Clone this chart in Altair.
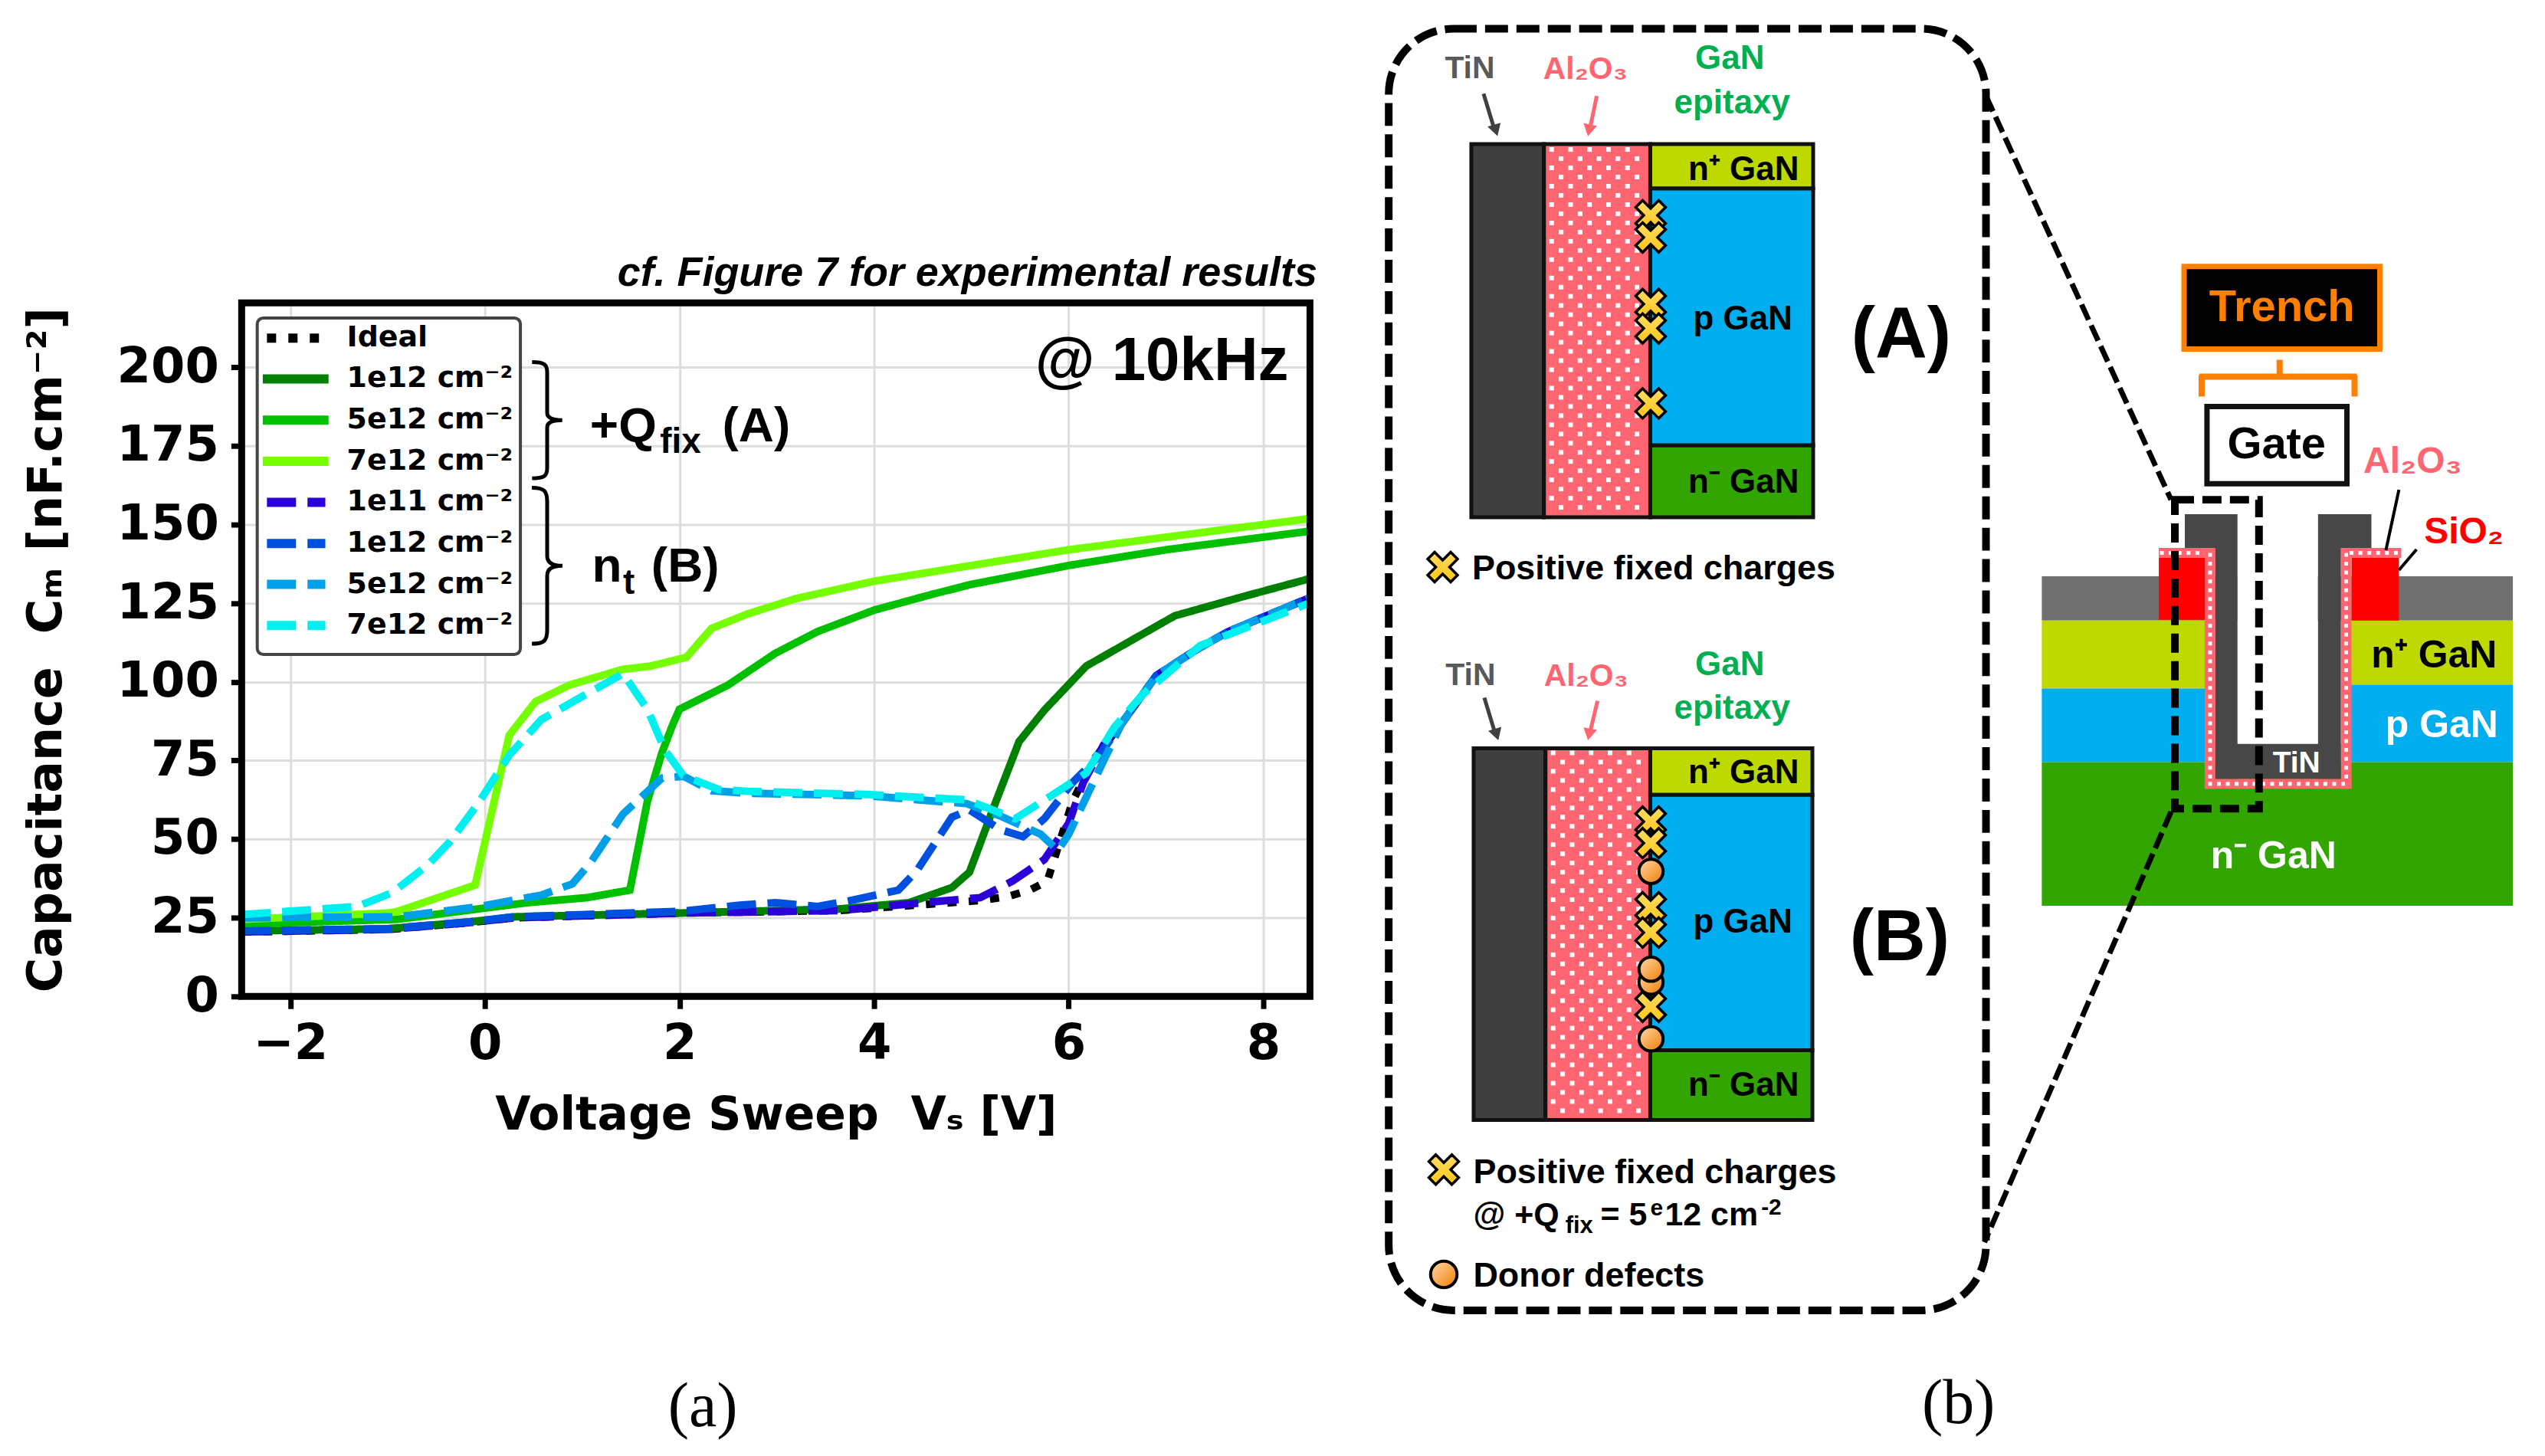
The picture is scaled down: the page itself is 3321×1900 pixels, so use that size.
import altair as alt
import pandas as pd
import numpy as np

# ---------------- chart (a) values ----------------
keys = ["Ideal", "1e12 cm⁻² (Qfix)", "5e12 cm⁻² (Qfix)", "7e12 cm⁻² (Qfix)", "1e11 cm⁻²", "1e12 cm⁻²", "5e12 cm⁻²", "7e12 cm⁻²"]
legend_labels = ["Ideal", "1e12 cm⁻²", "5e12 cm⁻²", "7e12 cm⁻²", "1e11 cm⁻²", "1e12 cm⁻²", "5e12 cm⁻²", "7e12 cm⁻²"]
colors = ["#000000", "#008000", "#00C000", "#76FF00", "#2C00D8", "#0050E0", "#00A0E8", "#00F0F0"]
DOT, SOLID, DASH = [12, 16], [1, 0], [38, 15]
dashes = [DOT, SOLID, SOLID, SOLID, DASH, DASH, DASH, DASH]

ideal_x = [-2.5, -1, -0.15, 0.3, 2, 3.64, 4.65, 5.09, 5.38, 5.6, 5.78, 5.85, 6.04, 6.25, 6.55, 6.9, 7.3, 7.64, 8.5]
ideal_y = [20.5, 21.3, 23.5, 25, 26.5, 27.3, 29.5, 30.5, 31.8, 33.8, 36.6, 43.5, 62, 75, 87, 102, 110, 116, 127]
q1_x = [-2.5, -1, -0.15, 0.3, 2, 3.64, 4.36, 4.8, 4.98, 5.24, 5.49, 5.75, 6.18, 7.09, 7.78, 8.5]
q1_y = [20.8, 21.5, 23.7, 25.3, 26.5, 27.8, 29.8, 34.6, 39.5, 61, 81, 91, 105, 121, 127, 133]
q5_x = [-2.5, -0.9, -0.07, 0.44, 1.05, 1.49, 1.67, 1.82, 1.93, 2, 2.5, 2.98, 3.42, 4, 4.58, 5, 6, 7, 8, 8.5]
q5_y = [23, 24.5, 27.8, 29.8, 31.4, 33.8, 62, 77.5, 86.4, 91.3, 99, 109, 116, 122.8, 127.7, 131, 137, 142, 146, 148]
q7_x = [-2.5, -1, -0.9, -0.1, 0.25, 0.52, 0.87, 1.42, 1.7, 2.07, 2.33, 2.7, 3.2, 4, 5, 6, 7, 8, 8.5]
q7_y = [24.5, 26.5, 27, 35.4, 83, 93.7, 99, 104, 105, 107.8, 117, 121.6, 126.5, 132, 137, 142, 146, 150, 152]
n11_x = [-2.5, -1, -0.15, 0.3, 2, 3.64, 4.65, 5.09, 5.42, 5.75, 6, 6.15, 6.36, 6.55, 6.9, 7.3, 7.64, 8.5]
n11_y = [20.5, 21.3, 23.5, 25, 26.5, 27.3, 30.2, 31.4, 36.6, 43.5, 55, 68, 80, 87, 102, 110, 116, 127]
n12_x = [-2.5, -1, -0.15, 0.3, 2, 2.62, 2.98, 3.42, 3.78, 4.25, 4.44, 4.8, 4.98, 5.3, 5.53, 5.75, 6.04, 6.3, 6.55, 6.9, 7.3, 7.64, 8.5]
n12_y = [20.8, 21.5, 23.7, 25.3, 27, 29, 29.8, 28.6, 30.6, 33.8, 40, 57, 59.3, 53, 50.8, 56.5, 68, 76, 87, 102, 110, 116, 127]
n5_x = [-2.5, -0.9, -0.07, 0.58, 0.9, 1.09, 1.42, 1.82, 2.04, 2.33, 2.7, 3.93, 4.95, 5.3, 5.71, 5.89, 6, 6.36, 6.55, 6.9, 7.3, 7.64, 8.5]
n5_y = [25, 25.3, 28.5, 32.2, 35.8, 42.7, 58, 69.4, 70, 65.4, 64.6, 63.8, 61.3, 57.3, 51.6, 46.4, 51.6, 75, 87, 102, 110, 116, 127]
n7_x = [-2.5, -1.31, -0.95, -0.58, -0.36, -0.07, 0.25, 0.58, 1.02, 1.42, 1.67, 1.85, 2.04, 2.4, 2.7, 3.93, 4.95, 5.45, 5.82, 6.18, 6.47, 6.76, 7.35, 8.47]
n7_y = [26, 28.6, 33, 42, 49.2, 61.3, 76.7, 88, 95.7, 102.6, 91.3, 78.3, 70.2, 65.8, 65.2, 64.2, 62.5, 56.5, 63.8, 71, 85.6, 96, 111.5, 125]

xs = [ideal_x, q1_x, q5_x, q7_x, n11_x, n12_x, n5_x, n7_x]
ys = [ideal_y, q1_y, q5_y, q7_y, n11_y, n12_y, n5_y, n7_y]
curves = pd.DataFrame(
    [{"s": k, "i": i, "V": a, "C": b} for i, (k, X, Y) in enumerate(zip(keys, xs, ys)) for a, b in zip(X, Y)]
)

TITLE = "cf. Figure 7 for experimental results"
X_TITLE = "Voltage Sweep\u00a0\u00a0Vₛ [V]"
Y_TITLE = "Capacitance\u00a0\u00a0Cₘ [nF.cm⁻²]"

SANS = "Liberation Sans"
DEJA = "DejaVu Sans"
XDOM = [-2.5, 8.48]
YDOM = [0, 220.5]

def brace(w, tip):
    a, m, b = -0.5, tip, 0.5
    r = 0.045
    return (f"M{-w},{a}C{-w/6},{a} 0,{a+r/2} 0,{a+2*r}L0,{m-1.4*r}C0,{m-r/2} {w/3},{m} {w},{m}"
            f"C{w/3},{m} 0,{m+r/2} 0,{m+1.4*r}L0,{b-2*r}C0,{b-r/2} {-w/6},{b} {-w},{b}")

sx = alt.Scale(domain=XDOM, nice=False, zero=False)
sy = alt.Scale(domain=YDOM, nice=False, zero=False)
ex = alt.X("V:Q", scale=sx, title=X_TITLE, axis=alt.Axis(
    values=[-2, 0, 2, 4, 6, 8], format="d", grid=True, gridColor="#DDDDDD", gridWidth=3, domain=False,
    tickSize=16, tickWidth=7, tickColor="black", labelFont=DEJA, labelFontWeight="bold", labelFontSize=64,
    labelPadding=14, titleFont=DEJA, titleFontWeight="bold", titleFontSize=60, titlePadding=33, labelOverlap=False))
ey = alt.Y("C:Q", scale=sy, title=Y_TITLE, axis=alt.Axis(
    values=[0, 25, 50, 75, 100, 125, 150, 175, 200], grid=True, gridColor="#DDDDDD", gridWidth=3, domain=False,
    tickSize=14, tickWidth=7, tickColor="black", labelFont=DEJA, labelFontWeight="bold", labelFontSize=64,
    labelPadding=16, titleFont=DEJA, titleFontWeight="bold", titleFontSize=62, titlePadding=60, labelOverlap=False))

col_scale = alt.Scale(domain=keys, range=colors)
dash_scale = alt.Scale(domain=keys, range=dashes)
lines = alt.Chart(curves).mark_line(strokeWidth=10, clip=True).encode(
    x=ex, y=ey,
    color=alt.Color("s:N", scale=col_scale, legend=None),
    strokeDash=alt.StrokeDash("s:N", scale=dash_scale, legend=None),
    order=alt.Order("V:Q"),
    detail="i:O",
)
# key panel, laid out in the plot's own units
row_C = [209.3, 196.3, 183.2, 170.1, 157.1, 144.0, 131.0, 117.9]
key_box = alt.Chart(pd.DataFrame({"a": [-2.34], "b": [0.365], "c": [108.7], "d": [215.7]})).mark_rect(
    fill="white", stroke="#444444", strokeWidth=4, cornerRadius=8).encode(
    x=alt.X("a:Q", scale=sx), x2="b:Q", y=alt.Y("c:Q", scale=sy), y2="d:Q")
key_df = pd.DataFrame({
    "s": keys, "t": legend_labels, "C": row_C,
    "a": [-2.24, -2.283, -2.283, -2.283, -2.24, -2.24, -2.24, -2.24],
    "b": [-1.64, -1.607, -1.607, -1.607, -1.64, -1.64, -1.64, -1.64],
    "L": [-1.419] * 8,
})
key_rules = alt.Chart(key_df).mark_rule(strokeWidth=12).encode(
    x=alt.X("a:Q", scale=sx), x2="b:Q", y=alt.Y("C:Q", scale=sy),
    color=alt.Color("s:N", scale=col_scale, legend=None),
    strokeDash=alt.StrokeDash("s:N", scale=dash_scale, legend=None),
)
key_text = alt.Chart(key_df).mark_text(font=DEJA, fontWeight="bold", fontSize=38, align="left", baseline="middle", color="black").encode(
    x=alt.X("L:Q", scale=sx), y=alt.Y("C:Q", scale=sy), text="t:N")

frame = alt.Chart(pd.DataFrame({"a": [XDOM[0]], "b": [XDOM[1]], "c": [YDOM[0]], "d": [YDOM[1]]})).mark_rect(
    fillOpacity=0, stroke="black", strokeWidth=9).encode(
    x=alt.X("a:Q", scale=sx), x2="b:Q", y=alt.Y("c:Q", scale=sy), y2="d:Q")

notes = pd.DataFrame([
    {"V": 8.26, "C": 196, "t": "@ 10kHz", "z": 80, "al": "right"},
    {"V": 1.08, "C": 176.4, "t": "+Q", "z": 64, "al": "left"},
    {"V": 1.80, "C": 172.7, "t": "fix", "z": 46, "al": "left"},
    {"V": 2.44, "C": 176.4, "t": "(A)", "z": 64, "al": "left"},
    {"V": 1.10, "C": 131.9, "t": "n", "z": 64, "al": "left"},
    {"V": 1.42, "C": 128, "t": "t", "z": 46, "al": "left"},
    {"V": 1.71, "C": 131.9, "t": "(B)", "z": 64, "al": "left"},
])
def note_layer(al):
    d = notes[notes.al == al]
    return alt.Chart(d).mark_text(font=SANS, fontWeight="bold", baseline="alphabetic", align=al, color="black").encode(
        x=alt.X("V:Q", scale=sx), y=alt.Y("C:Q", scale=sy), text="t:N", size=alt.Size("z:Q", scale=None))

def brace_layer(V, C, H, path):
    return alt.Chart(pd.DataFrame({"V": [V], "C": [C]})).mark_point(
        shape=path, size=4 * H * H, stroke="black", strokeWidth=5, filled=False, opacity=1).encode(
        x=alt.X("V:Q", scale=sx), y=alt.Y("C:Q", scale=sy))

cap_a = alt.Chart(pd.DataFrame({"V": [2.24], "C": [-130.5], "t": ["(a)"]})).mark_text(
    font="Liberation Serif", fontSize=82, align="center", baseline="middle", color="black").encode(
    x=alt.X("V:Q", scale=sx), y=alt.Y("C:Q", scale=sy), text="t:N")

main = alt.layer(
    lines, key_box, key_rules, key_text, note_layer("right"), note_layer("left"),
    brace_layer(0.64, 183.2, 152, brace(0.13, 0.0)),
    brace_layer(0.64, 136.9, 204, brace(0.098, 0.0)),
    cap_a, frame,
).properties(
    width=1397, height=907,
    title=alt.TitleParams(TITLE, font=SANS, fontStyle="italic", fontWeight="bold", fontSize=54, anchor="end", offset=7, dx=5, color="black"),
)
spacer = alt.Chart(pd.DataFrame({"a": [0]})).mark_point(opacity=0).encode(x=alt.value(0), y=alt.value(0)).properties(width=10, height=317)

# ---------------- diagram (b) ----------------
DX = [1730, 3315]
DY = [9.5, 1894.5]
PINK, TINC, NP, PG, NM = "#FF6671", "#3F3F3F", "#BDD900", "#00ADEF", "#33A500"
GREEN, GATE_OR = "#00B050", "#FF7F00"
gx = alt.Scale(domain=DX, nice=False, zero=False)
gy = alt.Scale(domain=DY, nice=False, zero=False, reverse=True)
X = alt.X("x:Q", scale=gx, axis=None)
Y = alt.Y("y:Q", scale=gy, axis=None)

def R(x, x2, y, y2, fill, stroke="transparent", w=0):
    return dict(x=x, x2=x2, y=y, y2=y2, fill=fill, stroke=stroke, w=w)

rects = [
    # panel A
    R(1919, 2014, 185, 673, TINC, "#111111", 5), R(2014, 2153, 185, 673, PINK, "#111111", 5),
    R(2153, 2366, 185, 243, NP, "#111111", 5), R(2153, 2366, 243, 579, PG, "#111111", 5), R(2153, 2366, 579, 673, NM, "#111111", 5),
    # panel B
    R(1922, 2016, 975, 1461, TINC, "#111111", 5), R(2016, 2153, 975, 1461, PINK, "#111111", 5),
    R(2153, 2365, 975, 1036, NP, "#111111", 5), R(2153, 2365, 1036, 1370, PG, "#111111", 5), R(2153, 2365, 1370, 1461, NM, "#111111", 5),
    # device layers
    R(2665, 3281, 750, 808, "#707070"), R(2665, 2880, 808, 897, NP), R(3068, 3281, 808, 892, NP),
    R(2665, 2880, 897, 993, PG), R(3068, 3281, 892, 993, PG), R(2665, 3281, 993, 1181, NM),
    R(2818, 2879, 726, 807, "#FF0000"), R(3070, 3132, 726, 808, "#FF0000"),
    # Al2O3 liner
    R(2818, 2892, 713, 726, PINK), R(2878, 2892, 713, 1028, PINK), R(2878, 3070, 1015, 1028, PINK),
    R(3056, 3070, 713, 1028, PINK), R(3056, 3135, 713, 726, PINK),
    # TiN gate
    R(2852, 2921, 669, 713, "#474747"), R(2892, 2921, 713, 1015, "#474747"), R(2892, 3056, 969, 1015, "#474747"),
    R(3026, 3056, 713, 1015, "#474747"), R(3026, 3096, 669, 713, "#474747"), R(2921, 3026, 669, 969, "#FFFFFF"),
    # labelled boxes
    R(2851, 3107, 345, 453, "#000000", GATE_OR, 7), R(2881, 3064, 528, 629, "#FFFFFF", "#111111", 7),
]
rect_layer = alt.Chart(pd.DataFrame(rects)).mark_rect().encode(
    x=X, x2="x2:Q", y=Y, y2="y2:Q",
    fill=alt.Fill("fill:N", scale=None), stroke=alt.Stroke("stroke:N", scale=None),
    strokeWidth=alt.StrokeWidth("w:Q", scale=None),
)

# white dots of the Al2O3 hatch
def hatch(x0, x1, y0, y1):
    out = []
    for i, yy in enumerate(np.arange(y0 + 6, y1 - 2, 12)):
        for xx in np.arange(x0 + 6 + (12.4 if i % 2 else 0), x1 - 2, 24.8):
            out.append(dict(x=float(xx), y=float(yy)))
    return out
dots = hatch(2018, 2150, 186, 673) + hatch(2020, 2150, 975, 1461)
dots_big = alt.Chart(pd.DataFrame(dots)).mark_square(size=36, color="white", opacity=1).encode(x=X, y=Y)
liner = []
for xx in np.arange(2822, 2880, 11.6): liner.append(dict(x=float(xx), y=719.5))
for yy in np.arange(722, 1020, 11.6): liner.append(dict(x=2885.0, y=float(yy)))
for xx in np.arange(2885, 3070, 11.6): liner.append(dict(x=float(xx), y=1021.5))
for yy in np.arange(722, 1020, 11.6): liner.append(dict(x=3063.0, y=float(yy)))
for xx in np.arange(3070, 3135, 11.6): liner.append(dict(x=float(xx), y=719.5))
dots_small = alt.Chart(pd.DataFrame(liner)).mark_square(size=25, color="white", opacity=1).encode(x=X, y=Y)

def L(x, y, x2, y2, c="black", w=5):
    return dict(x=x, y=y, x2=x2, y2=y2, c=c, w=w)
seg = [
    L(1935, 119, 1949, 165, "#404040"), L(2083, 122, 2074, 165, PINK),
    L(1936, 909, 1950, 955, "#404040"), L(2084, 913, 2074, 955, PINK),
    L(2871, 489, 3077, 489, GATE_OR, 8), L(2874, 487, 2874, 515, GATE_OR, 8), L(3074, 487, 3074, 515, GATE_OR, 8),
    L(2976, 467, 2976, 489, GATE_OR, 8),
    L(3132, 637, 3115, 716, "black", 4), L(3155, 715, 3132, 742, "black", 4),
]
seg_layer = alt.Chart(pd.DataFrame(seg)).mark_rule().encode(
    x=X, x2="x2:Q", y=Y, y2="y2:Q", color=alt.Color("c:N", scale=None), strokeWidth=alt.StrokeWidth("w:Q", scale=None))

heads = pd.DataFrame([
    dict(x=1951, y=167, a=343, c="#404040"), dict(x=2073, y=167, a=11, c=PINK),
    dict(x=1952, y=957, a=343, c="#404040"), dict(x=2073, y=957, a=11, c=PINK),
])
head_layer = alt.Chart(heads).mark_point(shape="triangle-down", size=320, filled=True, opacity=1).encode(
    x=X, y=Y, angle=alt.Angle("a:Q", scale=None), color=alt.Color("c:N", scale=None))

box_dash = alt.Chart(pd.DataFrame([R(1811, 2592, 34, 1710, "none")])).mark_rect(
    fillOpacity=0, stroke="black", strokeWidth=10, strokeDash=[30, 11], cornerRadius=85).encode(x=X, x2="x2:Q", y=Y, y2="y2:Q")
zoom_box = alt.Chart(pd.DataFrame([R(2839, 2949, 650, 1054, "none")])).mark_rect(
    fillOpacity=0, stroke="black", strokeWidth=10, strokeDash=[25, 11]).encode(x=X, x2="x2:Q", y=Y, y2="y2:Q")
leader = alt.Chart(pd.DataFrame([L(2592, 122, 2834, 650), L(2834, 1058, 2590, 1621)])).mark_rule(
    strokeWidth=7, strokeDash=[22, 8], color="black").encode(x=X, x2="x2:Q", y=Y, y2="y2:Q")

CROSS = "M-1,-.3L-.3,-.3L-.3,-1L.3,-1L.3,-.3L1,-.3L1,.3L.3,.3L.3,1L-.3,1L-.3,.3L-1,.3Z"
gold = alt.LinearGradient(gradient="linear", stops=[alt.GradientStop(color="#FFE27A", offset=0), alt.GradientStop(color="#FFC000", offset=1)], x1=0, x2=1, y1=0, y2=1)
orange = alt.LinearGradient(gradient="linear", stops=[alt.GradientStop(color="#FFD9A8", offset=0), alt.GradientStop(color="#F07D00", offset=1)], x1=0, x2=1, y1=0, y2=1)
x_pos = pd.DataFrame({
    "x": [2153.5] * 10 + [1881.5, 1883],
    "y": [278, 307, 394, 426, 524, 1071, 1099, 1183, 1216, 1313, 738, 1526],
})
cross_layer = alt.Chart(x_pos).mark_point(shape=CROSS, size=1800, angle=45, filled=True, fill=gold, stroke="black", strokeWidth=3.5, opacity=1).encode(x=X, y=Y)
o_pos = pd.DataFrame({"x": [2154, 2154, 2154, 2154, 1883], "y": [1281, 1264, 1136, 1355, 1663], "z": [1000, 1000, 1000, 1000, 1200]})
circ_layer = alt.Chart(o_pos).mark_point(shape="circle", filled=True, fill=orange, stroke="black", strokeWidth=4, opacity=1).encode(
    x=X, y=Y, size=alt.Size("z:Q", scale=None))

def T(x, y, t, z, c="black"):
    return dict(x=x, y=y, t=t, z=z, c=c)
center_txt = [
    T(1917, 87, "TiN", 41, "#595959"), T(2068, 88, "Al₂O₃", 41, PINK),
    T(2257, 74, "GaN", 44, GREEN), T(2260, 132, "epitaxy", 44, GREEN),
    T(2275, 219, "n⁺ GaN", 44), T(2274, 414, "p GaN", 44), T(2275, 628, "n⁻ GaN", 44), T(2481, 436, "(A)", 94),
    T(1918, 880, "TiN", 41, "#595959"), T(2069, 881, "Al₂O₃", 41, PINK),
    T(2257, 866, "GaN", 44, GREEN), T(2260, 923, "epitaxy", 44, GREEN),
    T(2275, 1008, "n⁺ GaN", 44), T(2274, 1203, "p GaN", 44), T(2275, 1417, "n⁻ GaN", 44), T(2479, 1224, "(B)", 94),
    T(2979, 399, "Trench", 58, GATE_OR), T(2972, 579, "Gate", 58),
    T(3150, 601, "Al₂O₃", 48, PINK), T(3217, 693, "SiO₂", 48, "#FF0000"),
    T(3178, 854, "n⁺ GaN", 50), T(3188, 946, "p GaN", 50, "white"), T(2968, 1117, "n⁻ GaN", 50, "white"),
    T(2998, 995, "TiN", 39, "white"),
]
left_txt = [
    T(1920, 740, "Positive fixed charges", 45), T(1921.5, 1530, "Positive fixed charges", 45),
    T(1921.5, 1586, "@ +Q", 43), T(2042, 1600, "fix", 31), T(2088, 1586, "= 5", 43), T(2153, 1577, "e", 30),
    T(2172, 1586, "12 cm", 43), T(2298, 1576, "-2", 30), T(1921.5, 1665, "Donor defects", 45),
]
def text_layer(rows, al):
    return alt.Chart(pd.DataFrame(rows)).mark_text(font=SANS, fontWeight="bold", align=al, baseline="middle").encode(
        x=X, y=Y, text="t:N", size=alt.Size("z:Q", scale=None), color=alt.Color("c:N", scale=None))
cap_b = alt.Chart(pd.DataFrame({"x": [2556], "y": [1832], "t": ["(b)"]})).mark_text(
    font="Liberation Serif", fontSize=82, align="center", baseline="middle", color="black").encode(x=X, y=Y, text="t:N")

diagram = alt.layer(
    rect_layer, dots_big, dots_small, seg_layer, head_layer, box_dash, zoom_box, leader,
    cross_layer, circ_layer, text_layer(center_txt, "center"), text_layer(left_txt, "left"), cap_b,
).properties(width=DX[1] - DX[0], height=DY[1] - DY[0])

left_col = alt.vconcat(spacer, main, spacing=0)
chart = alt.hconcat(left_col, diagram, spacing=12).properties(
    padding={"left": 21, "top": 0, "right": 0, "bottom": 0}, background="white"
).configure_view(stroke=None)
chart.save("out.html", embed_options={"renderer": "svg", "actions": False})
